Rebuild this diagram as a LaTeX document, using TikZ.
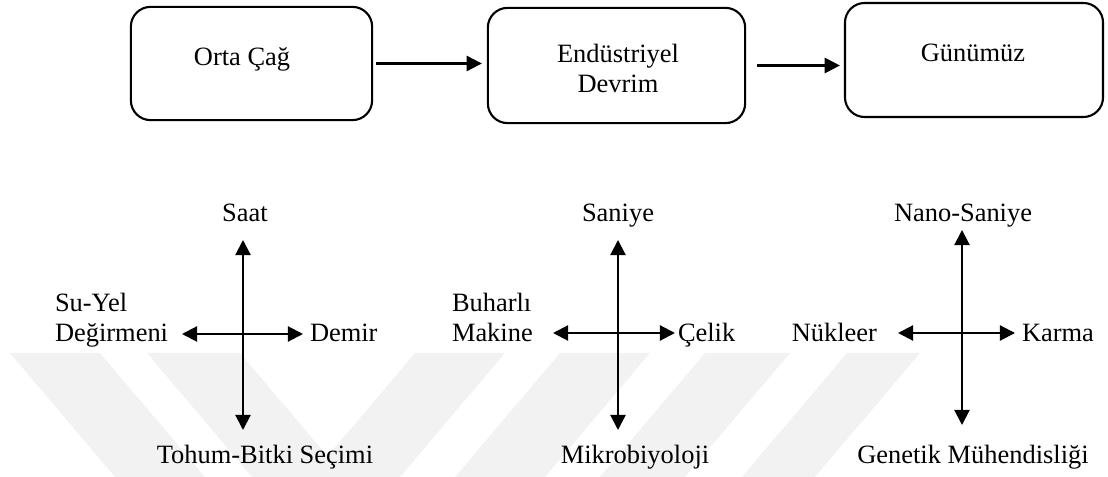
\documentclass[tikz,border=0pt]{standalone}
\usepackage{fontspec}
\setmainfont{Liberation Serif}
\usetikzlibrary{arrows.meta}

\begin{document}
\begin{tikzpicture}[x=0.025cm,y=-0.025cm,
		era/.style={draw,line width=1.5pt,rounded corners=14pt,inner sep=0pt,outer sep=0pt},
		flow/.style={line width=1.5pt,-{Triangle[length=10.8pt,width=10.8pt]}},
		axis/.style={line width=1.5pt,{Triangle[length=10.8pt,width=10.8pt]}-{Triangle[length=10.8pt,width=10.8pt]}},
		lbl/.style={outer sep=0pt,inner sep=0pt,font=\fontsize{18.8}{21.5}\selectfont},
		wmark/.style={fill=black!5}]
		
		\useasboundingbox (0,0) rectangle (1108,477);
		
		% faint stripes of the background
		\fill[wmark] (10,353) -- (100,353) -- (205,477) -- (115,477) -- cycle;
		\fill[wmark] (147,353) -- (240,353) -- (345,477) -- (252,477) -- cycle;
		\fill[wmark] (415,353) -- (505,353) -- (400,477) -- (310,477) -- cycle;
		\fill[wmark] (560,353) -- (650,353) -- (545,477) -- (455,477) -- cycle;
		\fill[wmark] (705,353) -- (790,353) -- (685,477) -- (600,477) -- cycle;
		\fill[wmark] (847,353) -- (920,353) -- (815,477) -- (742,477) -- cycle;
		
		% eras
		\node[era,minimum width=6.03cm,minimum height=2.83cm] (b1) at (251.5,63.5) {};
		\node[era,minimum width=6.43cm,minimum height=2.88cm] (b2) at (616.5,65.5) {};
		\node[era,minimum width=6.45cm,minimum height=2.85cm] (b3) at (974,60) {};
		
		\node[lbl,anchor=base] (t1) at (242,66) {Orta Çağ};
		\node[lbl,anchor=base,align=center] (t2) at (618,93) {Endüstriyel\\Devrim};
		\node[lbl,anchor=base] (t3) at (973,62) {Günümüz};
		
		\draw[flow,shorten <=2.8pt,shorten >=4.3pt] (b1.east) -- (b2.west |- b1.east);
		\draw[flow,shorten <=8.5pt,shorten >=3.6pt] (b2.east) -- (b3.west |- b2.east);
		
		% orta cag
		\coordinate (n1) at (243,240);
		\coordinate (s1) at (243,430);
		\coordinate (w1) at (182,334);
		\coordinate (e1) at (303,334);
		\draw[axis] (n1) -- (s1);
		\draw[axis] (w1) -- (e1);
		\node[lbl,anchor=base] (saat) at (245,222) {Saat};
		\node[lbl,anchor=base west,align=left] (degirmen) at (55,342) {Su-Yel\\Değirmeni};
		\node[lbl,anchor=base west] (demir) at (310,342) {Demir};
		\node[lbl,anchor=base] (tohum) at (265,463) {Tohum-Bitki Seçimi};
		
		% endustriyel devrim
		\coordinate (n2) at (618,240);
		\coordinate (s2) at (618,430);
		\coordinate (w2) at (553,333);
		\coordinate (e2) at (675,333);
		\draw[axis] (n2) -- (s2);
		\draw[axis] (w2) -- (e2);
		\node[lbl,anchor=base] (saniye) at (618,222) {Saniye};
		\node[lbl,anchor=base west,align=left] (buhar) at (452,342) {Buharlı\\Makine};
		\node[lbl,anchor=base west] (celik) at (678,342) {Çelik};
		\node[lbl,anchor=base] (mikro) at (635,463) {Mikrobiyoloji};
		
		% gunumuz
		\coordinate (n3) at (962,230);
		\coordinate (s3) at (962,425);
		\coordinate (w3) at (898,333);
		\coordinate (e3) at (1015,333);
		\draw[axis] (n3) -- (s3);
		\draw[axis] (w3) -- (e3);
		\node[lbl,anchor=base] (nano) at (963,222) {Nano-Saniye};
		\node[lbl,anchor=base east] (nukleer) at (877,342) {Nükleer};
		\node[lbl,anchor=base west] (karma) at (1022,342) {Karma};
		\node[lbl,anchor=base] (genetik) at (973,463) {Genetik Mühendisliği};
		
	\end{tikzpicture}
\end{document}
